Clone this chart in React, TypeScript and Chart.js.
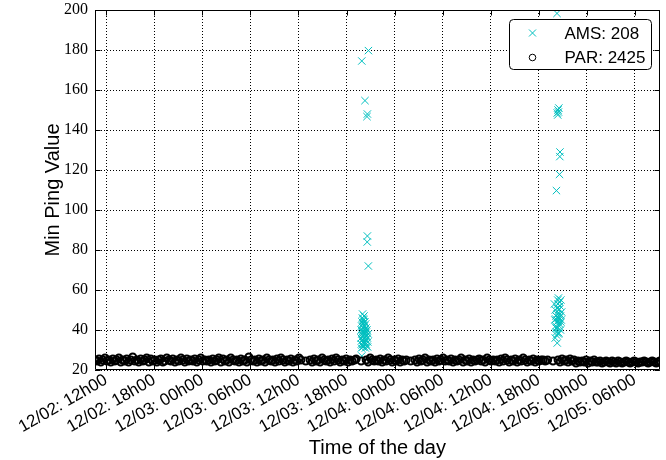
import React, { useEffect, useRef } from 'react';
import { Chart, registerables } from 'chart.js';

Chart.register(...registerables);

// x values are hours counted from 12/02 00h00
const xMin = 10.6;
const xMax = 81.1;
const xTickHours = [12, 18, 24, 30, 36, 42, 48, 54, 60, 66, 72, 78];
const xTickLabels = [
  '12/02: 12h00', '12/02: 18h00', '12/03: 00h00', '12/03: 06h00',
  '12/03: 12h00', '12/03: 18h00', '12/04: 00h00', '12/04: 06h00',
  '12/04: 12h00', '12/04: 18h00', '12/05: 00h00', '12/05: 06h00',
];
const yMin = 20;
const yMax = 200;
const yStep = 20;

const xTitle = 'Time of the day';
const yTitle = 'Min Ping Value';
const legendLabels = ['AMS: 208', 'PAR: 2425'];

const parTimes = [
  10.60, 10.84, 11.10, 11.33, 11.58, 11.85, 12.08, 12.31,
  12.57, 12.83, 13.06, 13.30, 13.58, 13.82, 14.05, 14.33,
  14.56, 14.80, 15.07, 15.31, 15.55, 15.83, 16.06, 16.30,
  16.58, 16.81, 17.05, 17.32, 17.57, 17.80, 18.06, 18.33,
  18.55, 18.82, 19.07, 19.30, 19.56, 19.83, 20.05, 20.31,
  20.58, 20.82, 21.06, 21.33, 21.55, 21.81, 22.07, 22.30,
  22.57, 22.83, 23.05, 23.31, 23.58, 23.80, 24.06, 24.32,
  24.55, 24.81, 25.08, 25.30, 25.56, 25.83, 26.05, 26.31,
  26.57, 26.80, 27.06, 27.33, 27.55, 27.82, 28.07, 28.30,
  28.58, 28.81, 29.05, 29.32, 29.56, 29.80, 30.07, 30.33,
  30.55, 30.82, 31.06, 31.30, 31.57, 31.83, 32.05, 32.31,
  32.58, 32.80, 33.07, 33.32, 33.55, 33.81, 34.06, 34.30,
  34.57, 34.83, 35.05, 35.31, 35.58, 35.80, 36.06, 36.30,
  36.90, 37.45, 37.70, 37.95, 38.20, 38.45, 38.70, 38.95,
  39.20, 39.45, 39.70, 39.95, 40.20, 40.45, 40.70, 40.95,
  41.20, 41.45, 41.70, 41.95, 42.20, 42.45, 42.70, 43.00,
  43.20, 43.82, 44.45, 44.70, 44.95, 45.20, 45.45, 45.70,
  45.95, 46.20, 46.45, 46.70, 46.95, 47.20, 47.45, 47.70,
  47.95, 48.20, 48.45, 48.70, 48.95, 49.20, 49.45, 50.00,
  50.55, 50.80, 51.05, 51.30, 51.55, 51.80, 52.05, 52.30,
  52.55, 52.80, 53.05, 53.30, 53.55, 53.80, 54.05, 54.30,
  54.55, 54.80, 55.05, 55.30, 55.55, 55.80, 56.05, 56.30,
  56.55, 56.80, 57.05, 57.30, 57.55, 57.80, 58.05, 58.30,
  58.55, 58.80, 59.05, 59.30, 59.55, 59.80, 60.05, 60.30,
  60.55, 60.80, 61.05, 61.30, 61.55, 61.80, 62.05, 62.30,
  62.55, 62.80, 63.05, 63.30, 63.55, 63.80, 64.05, 64.30,
  64.55, 64.80, 65.05, 65.30, 65.55, 65.80, 66.05, 66.30,
  66.55, 66.80, 67.10, 67.77, 68.40, 68.65, 68.90, 69.15,
  69.40, 69.65, 69.90, 70.15, 70.40, 70.65, 70.90, 71.15,
  71.40, 71.65, 71.90, 72.15, 72.40, 72.65, 72.90, 73.15,
  73.40, 73.65, 73.90, 74.15, 74.40, 74.65, 74.90, 75.15,
  75.40, 75.65, 75.90, 76.15, 76.40, 76.65, 76.90, 77.15,
  77.40, 77.65, 77.90, 78.15, 78.40, 78.65, 78.90, 79.15,
  79.40, 79.65, 79.90, 80.15, 80.40, 80.65, 80.90, 81.10,
];
const parValues = [
  25, 24.5, 25.5, 24, 25, 26, 24.5, 25,
  24, 25.5, 24.5, 25, 26, 24, 25, 24.5,
  25.5, 24, 25, 26.5, 24.5, 25, 24, 25.5,
  24.5, 25, 26, 24, 25.5, 24.5, 25, 24,
  25, 25.5, 24, 24.5, 26, 25, 24.5, 25.5,
  24, 25, 24.5, 26, 25, 24, 25.5, 24.5,
  25, 24.5, 25.5, 24, 25, 26, 24.5, 25,
  24.5, 25, 24, 25.5, 24.5, 25, 26, 24,
  25.5, 24.5, 25, 24, 26, 25, 24.5, 25,
  24, 25.5, 24.5, 25, 24, 26.5, 25, 24.5,
  25, 24, 25.5, 24.5, 25, 24, 26, 25,
  24.5, 25, 24, 25.5, 24.5, 26, 25, 24,
  25, 24.5, 25.5, 24, 25, 24.5, 26, 25,
  24.5, 25, 24, 25.5, 24.5, 25, 24, 26,
  25, 24.5, 25, 24, 25.5, 24.5, 26, 25,
  24, 25, 24.5, 25.5, 24, 25, 24.5, 25,
  25.5, 24.5, 25, 24, 26, 25, 24.5, 25,
  24.5, 25.5, 24, 25, 24.5, 26, 25, 24,
  25, 24.5, 25.5, 24, 25, 24.5, 25, 24.5,
  25, 24, 25.5, 24.5, 25, 26, 24, 25,
  24.5, 25, 24, 25.5, 24.5, 25, 26, 24.5,
  25, 24.5, 25.5, 24, 25, 24.5, 25, 26,
  24, 25, 24.5, 25.5, 24, 25, 24.5, 25,
  25.5, 24.5, 25, 24, 26, 25, 24.5, 25,
  24.5, 25, 24, 25.5, 24.5, 26, 25, 24,
  25, 24.5, 25.5, 24, 25, 24.5, 26, 25,
  24, 25, 24.5, 25.5, 24, 25, 24.5, 25,
  25, 24.5, 25, 24.5, 25, 24, 25.5, 24.5,
  25, 24, 25.5, 24.5, 25, 23.5, 24.5, 24,
  24.5, 24, 25, 23.5, 24.5, 24, 25, 24,
  24, 24.5, 23.5, 24, 24.5, 24, 23.5, 24.5,
  24, 23.5, 24.5, 24, 23.5, 24, 24.5, 24,
  23.5, 24, 24.5, 24, 23.5, 24, 24, 24.5,
  24, 23.5, 24, 24.5, 24, 23.5, 24, 24.5,
];

const amsTimes = [
  43.90, 44.73, 44.30, 44.60, 44.55, 44.60, 44.58, 44.72,
  43.80, 43.85, 43.90, 43.95, 44.00, 44.05, 44.10, 44.15, 44.20, 44.25,
  44.30, 44.35, 44.40, 44.45, 44.50, 44.55, 44.60, 44.65, 44.70, 43.82,
  43.88, 43.93, 43.98, 44.03, 44.08, 44.13, 44.18, 44.23, 44.28, 44.33,
  44.38, 44.43, 44.48, 43.85, 43.95, 44.05, 44.20, 44.35, 44.50, 44.62,
  43.90, 44.00, 44.10, 44.20, 43.95, 44.40, 44.15, 44.28,
  68.27, 68.40, 68.45, 68.30, 68.50, 68.36, 68.64, 68.62, 68.58, 68.20,
  67.95, 68.05, 68.15, 68.25, 68.35, 68.45, 68.55, 68.65, 68.75, 68.85,
  68.00, 68.10, 68.20, 68.30, 68.40, 68.50, 68.60, 68.70, 68.80,
  68.05, 68.15, 68.25, 68.35, 68.45, 68.55, 68.65, 68.75, 68.45, 68.60,
  68.30, 68.20, 68.50, 68.10, 68.40, 68.55, 68.70,
];
const amsValues = [
  174.5, 179.7, 154.7, 148, 146.7, 87, 84, 72,
  36, 33, 38, 35, 40, 34, 37, 32, 39, 36,
  34, 38, 35, 33, 37, 40, 36, 34, 38, 40,
  42, 44, 46, 43, 41, 45, 47, 42, 44, 40,
  43, 41, 39, 31, 32.5, 31.5, 33, 31, 32, 31.5,
  27, 48, 45.5, 44, 39, 37, 35.5, 38.5,
  198.3, 150, 149, 148.5, 151, 147.5, 129, 126.7, 117.8, 109.7,
  53, 50, 47, 44, 41, 38, 46, 52, 55, 49,
  45, 42, 39, 48, 53, 50, 43, 40, 45,
  36, 41, 51, 55, 46, 42, 48, 44, 56, 54,
  33.5, 37.5, 38.5, 45.5, 44.5, 50.5, 47,
];

const AMS_COLOR = '#00BFBF';
const SANS = "'Liberation Sans', Arial, sans-serif";
const SERIF = "'Liberation Serif', 'Times New Roman', serif";

const framePlugin = {
  id: 'frameAndLegend',
  afterDatasetsDraw(chart: any) {
    const { ctx, chartArea } = chart;
    const { left, right, top, bottom } = chartArea;
    const xs = chart.scales.x;
    const ys = chart.scales.y;
    ctx.save();
    ctx.strokeStyle = '#000';
    ctx.lineWidth = 1;
    ctx.setLineDash([]);
    const L = Math.round(left) + 0.5;
    const R = Math.round(right) - 0.5;
    const T = Math.round(top) + 0.5;
    const B = Math.round(bottom) - 0.5;
    ctx.beginPath();
    ctx.rect(L, T, R - L, B - T);
    ctx.stroke();
    const tl = 5;
    ctx.beginPath();
    xTickHours.forEach((h) => {
      const px = Math.round(xs.getPixelForValue(h)) + 0.5;
      ctx.moveTo(px, B); ctx.lineTo(px, B - tl);
      ctx.moveTo(px, T); ctx.lineTo(px, T + tl);
    });
    for (let v = yMin; v <= yMax; v += yStep) {
      const py = Math.round(ys.getPixelForValue(v)) + 0.5;
      ctx.moveTo(L, py); ctx.lineTo(L + tl, py);
      ctx.moveTo(R, py); ctx.lineTo(R - tl, py);
    }
    ctx.stroke();

    // legend box
    const bx = R - 150;
    const by = T + 9;
    const bw = 142;
    const bh = 50;
    ctx.beginPath();
    (ctx as any).roundRect(bx, by, bw, bh, 4);
    ctx.fillStyle = '#fff';
    ctx.fill();
    ctx.stroke();
    const mx = bx + 23;
    const my1 = by + 13.5;
    const my2 = by + 38;
    ctx.strokeStyle = AMS_COLOR;
    ctx.beginPath();
    ctx.moveTo(mx - 3.5, my1 - 3.5); ctx.lineTo(mx + 3.5, my1 + 3.5);
    ctx.moveTo(mx - 3.5, my1 + 3.5); ctx.lineTo(mx + 3.5, my1 - 3.5);
    ctx.stroke();
    ctx.strokeStyle = '#000';
    ctx.beginPath();
    ctx.arc(mx, my2, 3.3, 0, Math.PI * 2);
    ctx.stroke();
    ctx.fillStyle = '#000';
    ctx.font = `17px ${SANS}`;
    ctx.textAlign = 'left';
    ctx.textBaseline = 'middle';
    ctx.fillText(legendLabels[0], bx + 55, my1 + 1);
    ctx.fillText(legendLabels[1], bx + 55, my2 + 1);
    ctx.restore();
  },
};

export default function App() {
  const ref = useRef<HTMLCanvasElement | null>(null);
  useEffect(() => {
    document.body.style.margin = '0';
    const canvas = ref.current;
    if (!canvas) return;
    const chart = new Chart(canvas, {
      type: 'scatter',
      data: {
        datasets: [
          {
            label: legendLabels[1],
            data: parTimes.map((t, i) => ({ x: t, y: parValues[i] })),
            pointStyle: 'circle',
            pointRadius: 3.5,
            pointHoverRadius: 3.5,
            borderWidth: 2,
            borderColor: '#000',
            backgroundColor: 'rgba(0,0,0,0)',
            clip: 0,
            order: 0,
          } as any,
          {
            label: legendLabels[0],
            data: amsTimes.map((t, i) => ({ x: t, y: amsValues[i] })),
            pointStyle: 'crossRot',
            pointRadius: 5.2,
            pointHoverRadius: 5.2,
            borderWidth: 1,
            borderColor: AMS_COLOR,
            backgroundColor: AMS_COLOR,
            clip: 0,
            order: 1,
          } as any,
        ],
      },
      options: {
        animation: false,
        responsive: false,
        devicePixelRatio: 1,
        events: [],
        layout: { padding: { top: 10, right: 5, left: 0, bottom: 0 } },
        plugins: { legend: { display: false }, tooltip: { enabled: false } },
        scales: {
          x: {
            type: 'linear',
            min: xMin,
            max: xMax,
            afterBuildTicks: (scale: any) => {
              scale.ticks = xTickHours.map((v) => ({ value: v }));
            },
            afterFit: (scale: any) => {
              scale.height = 90;
              scale.paddingLeft = 0;
              scale.paddingRight = 0;
            },
            grid: { color: '#000', lineWidth: 1, drawTicks: false },
            border: { display: false, dash: [1, 2] },
            ticks: {
              autoSkip: false,
              maxRotation: 30,
              minRotation: 30,
              padding: 0,
              color: '#000',
              font: { family: SANS, size: 17 },
              callback: (v: any) => xTickLabels[xTickHours.indexOf(Number(v))] ?? '',
            },
            title: {
              display: true,
              text: xTitle,
              color: '#000',
              font: { family: SANS, size: 20 },
              padding: { top: 0, bottom: 0 },
            },
          },
          y: {
            type: 'linear',
            min: yMin,
            max: yMax,
            afterFit: (scale: any) => {
              scale.width = 95;
              scale.paddingTop = 0;
              scale.paddingBottom = 0;
            },
            grid: { color: '#000', lineWidth: 1, drawTicks: false },
            border: { display: false, dash: [1, 2] },
            ticks: {
              stepSize: yStep,
              padding: 7,
              color: '#000',
              font: { family: SERIF, size: 16 },
            },
            title: {
              display: true,
              text: yTitle,
              color: '#000',
              font: { family: SANS, size: 20 },
              padding: { top: 41, bottom: 0 },
            },
          },
        },
      } as any,
      plugins: [framePlugin],
    });
    return () => chart.destroy();
  }, []);
  return (
    <div style={{ width: 666, height: 460, background: '#fff' }}>
      <canvas ref={ref} width={666} height={460} style={{ display: 'block' }} />
    </div>
  );
}
